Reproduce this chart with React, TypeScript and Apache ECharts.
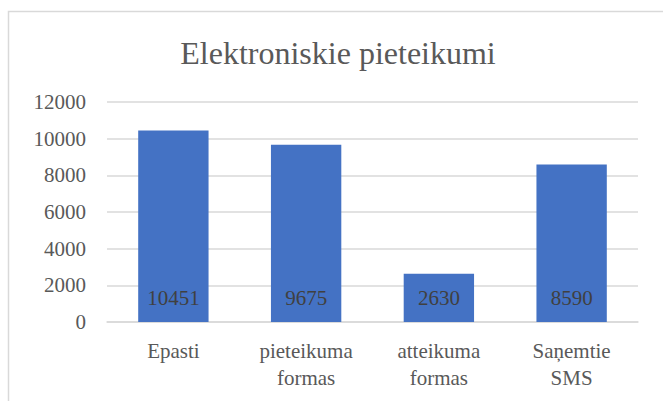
import React, { useEffect, useRef } from "react";
import * as echarts from "echarts";

const categories = ["Epasti", "pieteikuma\nformas", "atteikuma\nformas", "Saņemtie\nSMS"];
const values = [10451, 9675, 2630, 8590];
const yTicks = { min: 0, max: 12000, interval: 2000 };
const titleText = "Elektroniskie pieteikumi";

const FONT = "Liberation Serif";

export default function App() {
  const ref = useRef<HTMLDivElement>(null);
  useEffect(() => {
    if (!ref.current) return;
    const chart = echarts.init(ref.current, undefined, { renderer: "svg" });
    chart.setOption({
      animation: false,
      backgroundColor: "#ffffff",
      textStyle: { fontFamily: FONT },
      graphic: [
        {
          type: "rect",
          shape: { x: 8.5, y: 11.5, width: 700, height: 500 },
          style: { fill: "none", stroke: "#D9D9D9", lineWidth: 1.5 },
          silent: true,
        },
        {
          type: "text",
          x: 338,
          y: 53,
          style: {
            text: titleText,
            fontFamily: FONT,
            fontSize: 32,
            fill: "#595959",
            align: "center",
            verticalAlign: "middle",
          },
        },
      ],
      grid: { left: 107, right: 25, top: 102, bottom: 79, containLabel: false },
      xAxis: {
        type: "category",
        data: categories,
        axisLine: { show: true, lineStyle: { color: "#D9D9D9", width: 1.5 } },
        axisTick: { show: false },
        axisLabel: {
          fontFamily: FONT,
          fontSize: 21,
          color: "#595959",
          lineHeight: 27,
          margin: 15,
          interval: 0,
        },
      },
      yAxis: {
        type: "value",
        min: yTicks.min,
        max: yTicks.max,
        interval: yTicks.interval,
        axisLine: { show: false },
        axisTick: { show: false },
        splitLine: { lineStyle: { color: "#D9D9D9", width: 1.5 } },
        axisLabel: {
          fontFamily: FONT,
          fontSize: 21,
          color: "#595959",
          margin: 21,
          formatter: (v: number) => String(v),
        },
      },
      series: [
        {
          type: "bar",
          data: values,
          barCategoryGap: "47%",
          itemStyle: { color: "#4472C4" },
          label: {
            show: true,
            position: "insideBottom",
            distance: 14,
            fontFamily: FONT,
            fontSize: 21,
            lineHeight: 21,
            color: "#404040",
            formatter: (p: any) => String(p.value),
          },
        },
      ],
    });
    return () => chart.dispose();
  }, []);
  return (
    <div
      ref={ref}
      style={{ position: "fixed", left: 0, top: 0, width: 663, height: 401 }}
    />
  );
}
